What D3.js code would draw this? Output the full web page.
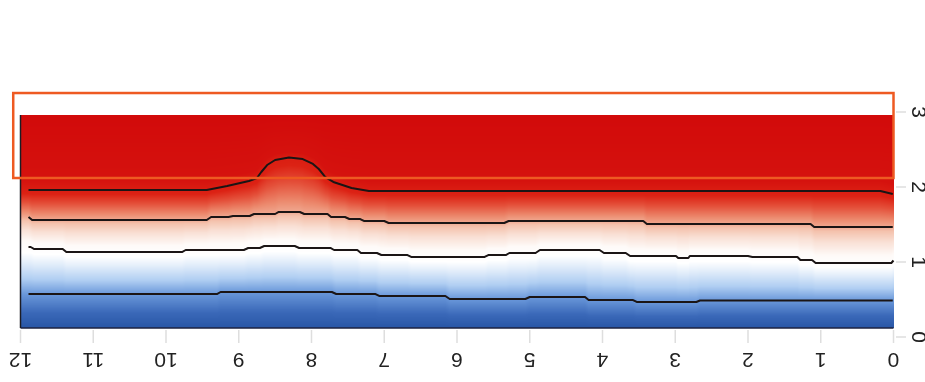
<!DOCTYPE html>
<html>
<head>
<meta charset="utf-8">
<script src="https://cdn.jsdelivr.net/npm/d3@7"></script>
<style>
  html, body { margin: 0; padding: 0; background: #ffffff; }
  #wrap { position: relative; width: 925px; height: 382px; overflow: hidden; }
  #wrap canvas, #wrap svg { position: absolute; left: 0; top: 0; }
  text { font-family: "Liberation Sans", Arial, sans-serif; }
</style>
</head>
<body>
<div id="wrap">
  <canvas id="field" width="925" height="382"></canvas>
  <svg id="chart" width="925" height="382"></svg>
</div>
<script>
// ---- data ---------------------------------------------------------------
const xTicks = [0, 1, 2, 3, 4, 5, 6, 7, 8, 9, 10, 11, 12];
const yTicks = [0, 1, 2, 3];

// extent of the gridded field
const fieldX = [0, 12];
const fieldY = [0.12, 2.96];

// field value at the lower and upper edge of the grid
const edgeValues = [-1, 2.5];

// contour levels, lowest first
const contourLevels = [-0.5, 0, 0.5, 1];

// contour paths as [x, y] vertices
const contourLow = [
  [0.01, 0.487], [2.66, 0.487], [2.71, 0.467], [3.53, 0.467], [3.58, 0.493], [4.19, 0.493],
  [4.24, 0.533], [5.00, 0.533], [5.06, 0.507], [6.10, 0.507], [6.16, 0.547], [7.07, 0.547],
  [7.12, 0.573], [7.66, 0.573], [7.72, 0.600], [9.25, 0.600], [9.30, 0.573], [11.89, 0.573]
];
const contourZero = [
  [0.00, 1.020], [0.03, 0.987], [1.07, 0.987], [1.12, 1.027], [1.28, 1.027], [1.32, 1.067],
  [1.94, 1.067], [2.00, 1.080], [2.80, 1.080], [2.82, 1.053], [2.96, 1.053], [2.99, 1.080],
  [3.62, 1.080], [3.68, 1.120], [3.98, 1.120], [4.04, 1.160], [4.86, 1.160], [4.92, 1.120],
  [5.28, 1.120], [5.33, 1.093], [5.57, 1.093], [5.62, 1.067], [6.63, 1.067], [6.68, 1.093],
  [7.04, 1.093], [7.10, 1.120], [7.32, 1.120], [7.37, 1.160], [7.69, 1.160], [7.74, 1.187],
  [8.17, 1.187], [8.23, 1.213], [8.65, 1.213], [8.71, 1.187], [8.87, 1.187], [8.93, 1.160],
  [9.73, 1.160], [9.78, 1.133], [11.37, 1.133], [11.42, 1.173], [11.81, 1.173], [11.86, 1.200],
  [11.89, 1.200]
];
const contourMid = [
  [0.01, 1.467], [1.09, 1.467], [1.14, 1.507], [3.39, 1.507], [3.44, 1.547], [5.29, 1.547],
  [5.35, 1.520], [6.94, 1.520], [7.00, 1.547], [7.28, 1.547], [7.33, 1.573], [7.48, 1.573],
  [7.54, 1.600], [7.73, 1.600], [7.78, 1.640], [8.10, 1.640], [8.16, 1.667], [8.45, 1.667],
  [8.50, 1.640], [8.79, 1.640], [8.85, 1.613], [9.08, 1.613], [9.14, 1.600], [9.38, 1.600],
  [9.44, 1.560], [11.84, 1.560], [11.89, 1.600]
];
const contourHigh = [
  [0.01, 1.907], [0.18, 1.947], [7.21, 1.947], [7.45, 1.987], [7.70, 2.067], [7.81, 2.133],
  [7.90, 2.240], [7.98, 2.307], [8.12, 2.373], [8.31, 2.393], [8.50, 2.360], [8.61, 2.293],
  [8.69, 2.200], [8.75, 2.120], [8.86, 2.080], [9.16, 2.013], [9.44, 1.960], [11.89, 1.960]
];
const contours = [contourLow, contourZero, contourMid, contourHigh];

// colour ramp: values and colours
const rampValues = [-1.0, -0.78, -0.5, -0.34, -0.17, -0.06, 0.1, 0.29, 0.44, 0.5, 0.6, 0.77, 0.93, 1.2, 2.5];
const rampColors = ["#2856a6", "#3a68b8", "#6a98da", "#b0cef2", "#e2edfa", "#ffffff", "#fefaf8",
                    "#f9e0d5", "#f4c2ad", "#f0a890", "#ec8a6e", "#e4503a", "#dc2214", "#d5120e", "#d20a0a"];

// highlighted window
const boxX = [0, 12.1];
const boxY = [2.12, 3.253];

// ---- scales -------------------------------------------------------------
const x = d3.scaleLinear().domain([0, 12]).range([893.5, 20.5]);
const y = d3.scaleLinear().domain([0, 3]).range([337, 112]);
const color = d3.scaleLinear().domain(rampValues).range(rampColors)
  .interpolate(d3.interpolateRgb).clamp(true);

// height of a contour path at a given x
function pathAt(path, xv) {
  if (xv <= path[0][0]) return path[0][1];
  const last = path[path.length - 1];
  if (xv >= last[0]) return last[1];
  const i = d3.bisector(d => d[0]).right(path, xv);
  const a = path[i - 1], b = path[i];
  const t = (xv - a[0]) / (b[0] - a[0]);
  return a[1] + t * (b[1] - a[1]);
}

// ---- field raster -------------------------------------------------------
const canvas = document.getElementById("field");
const ctx = canvas.getContext("2d");
const px0 = Math.round(x(fieldX[1])), px1 = Math.round(x(fieldX[0]));
const py0 = Math.round(y(fieldY[1])), py1 = Math.round(y(fieldY[0]));
const w = px1 - px0, h = py1 - py0;
const img = ctx.createImageData(w, h);
const zValues = [edgeValues[0], ...contourLevels, edgeValues[1]];
for (let i = 0; i < w; i++) {
  const xv = x.invert(px0 + i + 0.5);
  const heights = [fieldY[0], ...contours.map(c => pathAt(c, xv)), fieldY[1]];
  const zOf = d3.scaleLinear().domain(heights).range(zValues).clamp(true);
  for (let j = 0; j < h; j++) {
    const yv = y.invert(py0 + j + 0.5);
    const c = d3.rgb(color(zOf(yv)));
    const k = (j * w + i) * 4;
    img.data[k] = c.r; img.data[k + 1] = c.g; img.data[k + 2] = c.b; img.data[k + 3] = 255;
  }
}
ctx.putImageData(img, px0, py0);

// ---- vector layer -------------------------------------------------------
const svg = d3.select("#chart");

// field border along the x = 12 and y = low edges
svg.append("line")
  .attr("x1", x(fieldX[1])).attr("x2", x(fieldX[1]))
  .attr("y1", y(fieldY[1])).attr("y2", y(fieldY[0]))
  .attr("stroke", "#1c1c24").attr("stroke-width", 1.5);
svg.append("line")
  .attr("x1", x(fieldX[1])).attr("x2", x(fieldX[0]))
  .attr("y1", y(fieldY[0])).attr("y2", y(fieldY[0]))
  .attr("stroke", "#1c2240").attr("stroke-width", 1.5);

// contour lines
const line = d3.line().x(d => x(d[0])).y(d => y(d[1]));
svg.append("g").selectAll("path").data(contours).join("path")
  .attr("d", line)
  .attr("fill", "none")
  .attr("stroke", "#1b1515")
  .attr("stroke-width", 2)
  .attr("stroke-linejoin", "round");

// highlighted window
svg.append("rect")
  .attr("x", x(boxX[1])).attr("y", y(boxY[1]))
  .attr("width", x(boxX[0]) - x(boxX[1]))
  .attr("height", y(boxY[0]) - y(boxY[1]))
  .attr("fill", "none")
  .attr("stroke", "#ee5a22")
  .attr("stroke-width", 2.5);

// x axis: ticks and upside-down labels
const xAxis = svg.append("g");
xAxis.selectAll("line").data(xTicks).join("line")
  .attr("x1", d => x(d)).attr("x2", d => x(d))
  .attr("y1", 330).attr("y2", 343)
  .attr("stroke", "#dedede").attr("stroke-width", 1.5);
xAxis.selectAll("text").data(xTicks).join("text")
  .attr("x", d => x(d)).attr("y", 360)
  .attr("transform", d => `rotate(180, ${x(d)}, 360)`)
  .attr("text-anchor", "middle")
  .attr("dominant-baseline", "central")
  .attr("font-size", 21)
  .attr("fill", "#222")
  .text(d => d);

// y axis: ticks and labels turned a quarter clockwise
const yAxis = svg.append("g");
yAxis.selectAll("line").data(yTicks).join("line")
  .attr("x1", 896).attr("x2", 906)
  .attr("y1", d => y(d)).attr("y2", d => y(d))
  .attr("stroke", "#dedede").attr("stroke-width", 1.5);
yAxis.selectAll("text").data(yTicks).join("text")
  .attr("x", 919).attr("y", d => y(d))
  .attr("transform", d => `rotate(90, 919, ${y(d)})`)
  .attr("text-anchor", "middle")
  .attr("dominant-baseline", "central")
  .attr("font-size", 21)
  .attr("fill", "#222")
  .text(d => d);
</script>
</body>
</html>
